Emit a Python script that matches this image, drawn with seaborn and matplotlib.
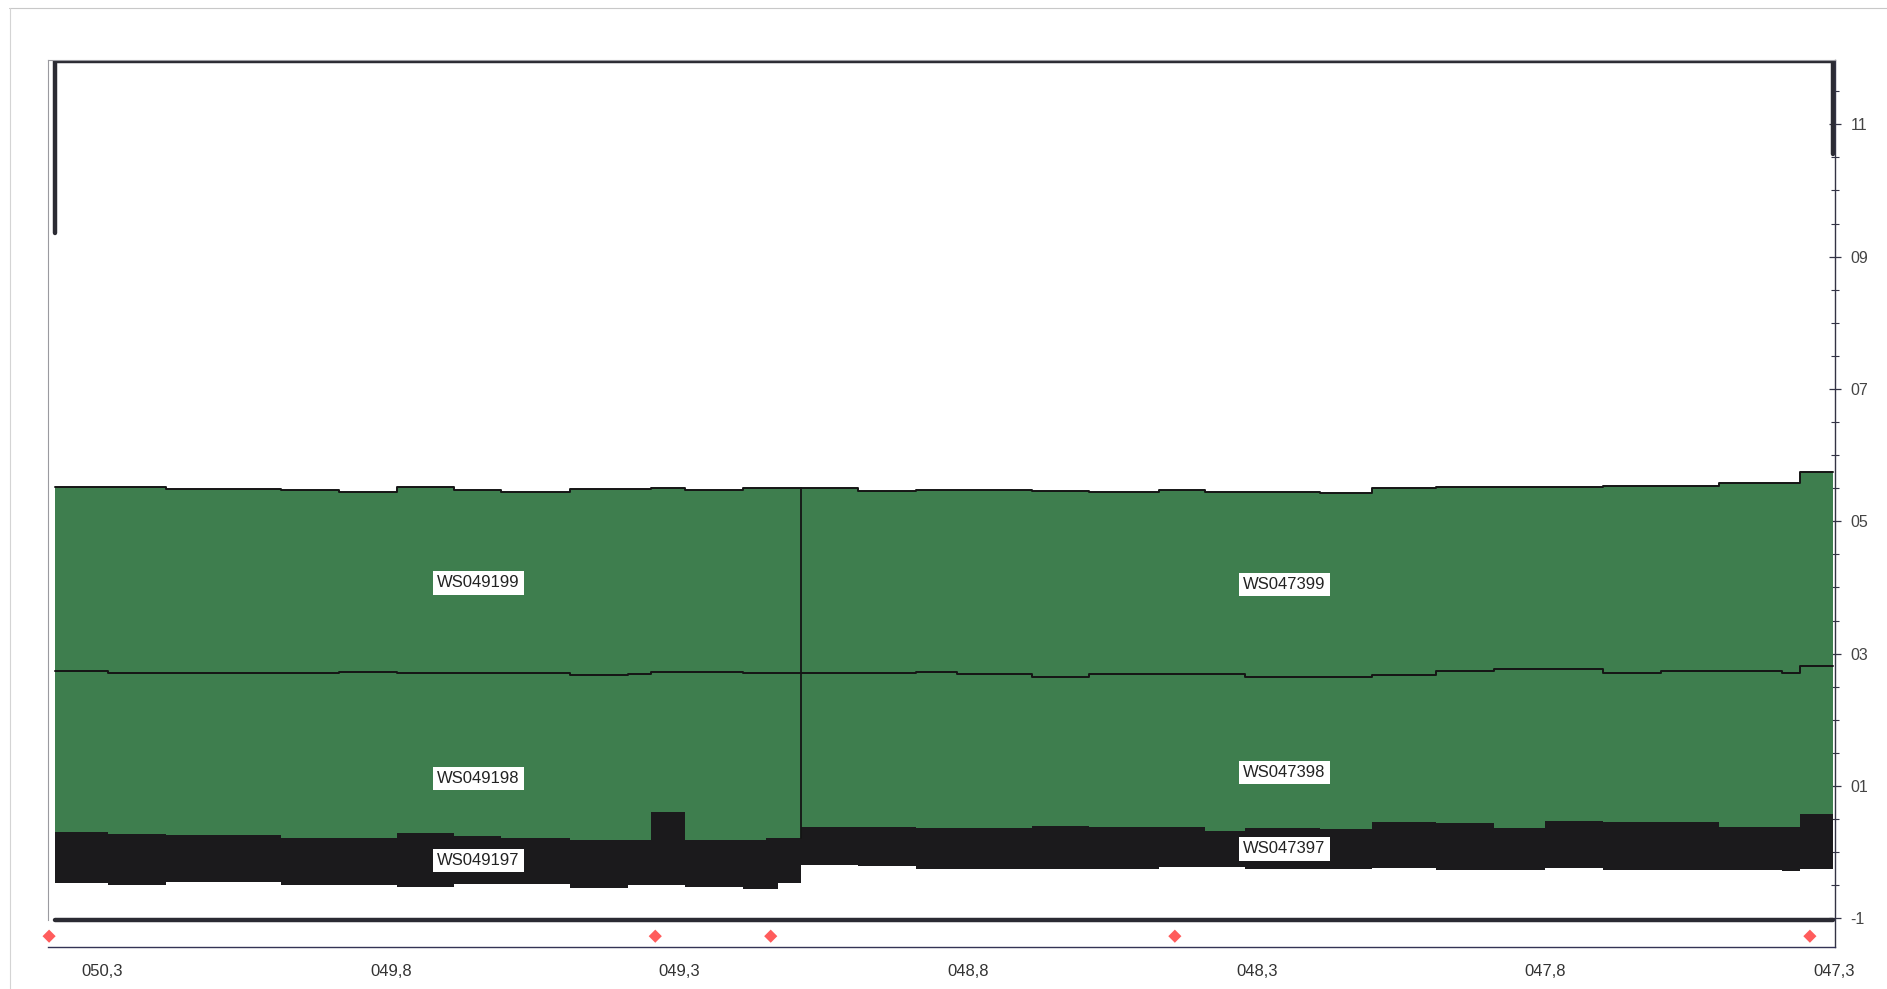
import numpy as np
import pandas as pd
import matplotlib.pyplot as plt
import seaborn as sns
from matplotlib.lines import Line2D
from matplotlib.ticker import FixedLocator, MultipleLocator

# chainage breakpoints (km) and layer boundaries (m)
# group WS0491xx (left part)
km_left = [50.382, 50.29, 50.19, 49.99, 49.89, 49.79, 49.69, 49.61,
           49.49, 49.39, 49.35, 49.29, 49.19, 49.15, 49.13, 49.09]
top99_left = [5.52, 5.52, 5.49, 5.47, 5.45, 5.52, 5.47, 5.45,
              5.49, 5.49, 5.51, 5.47, 5.50, 5.50, 5.50]
top98_left = [2.74, 2.70, 2.70, 2.70, 2.73, 2.70, 2.70, 2.70,
              2.67, 2.69, 2.73, 2.73, 2.70, 2.70, 2.70]
top97_left = [0.31, 0.28, 0.26, 0.22, 0.22, 0.29, 0.25, 0.21,
              0.19, 0.19, 0.61, 0.18, 0.18, 0.21, 0.21]
bot97_left = [-0.46, -0.49, -0.45, -0.49, -0.50, -0.52, -0.48, -0.48,
              -0.54, -0.50, -0.50, -0.52, -0.56, -0.56, -0.47]

# group WS0473xx (right part)
km_right = [49.09, 48.99, 48.89, 48.82, 48.69, 48.59, 48.47, 48.39, 48.32, 48.19,
            48.10, 47.99, 47.89, 47.80, 47.70, 47.60, 47.50, 47.39, 47.36, 47.302]
top99_right = [5.50, 5.46, 5.47, 5.47, 5.46, 5.445, 5.47, 5.45, 5.45, 5.43,
               5.50, 5.52, 5.52, 5.52, 5.535, 5.535, 5.58, 5.58, 5.75]
top98_right = [2.70, 2.70, 2.72, 2.69, 2.65, 2.69, 2.69, 2.69, 2.64, 2.64,
               2.675, 2.74, 2.77, 2.77, 2.71, 2.735, 2.735, 2.70, 2.81]
top97_right = [0.38, 0.38, 0.36, 0.37, 0.39, 0.38, 0.38, 0.32, 0.37, 0.345,
               0.45, 0.435, 0.36, 0.475, 0.46, 0.46, 0.38, 0.38, 0.58]
bot97_right = [-0.20, -0.21, -0.25, -0.25, -0.26, -0.26, -0.22, -0.22, -0.26, -0.26,
               -0.235, -0.27, -0.27, -0.245, -0.27, -0.27, -0.265, -0.285, -0.25]

# outline of the section
outline_km = [50.382, 50.382, 47.302, 47.302]
outline_lvl = [9.35, 11.96, 11.96, 10.55]
base_lvl = -1.03

# markers along the chainage
marker_km = [50.392, 49.342, 49.142, 48.442, 47.342]
marker_lvl = -1.27

# labels
labels_left = ["WS049199", "WS049198", "WS049197"]
labels_right = ["WS047399", "WS047398", "WS047397"]
label_km = [49.648, 48.252]
label_lvl_left = [4.07, 1.11, -0.13]
label_lvl_right = [4.05, 1.20, 0.05]

x_major = [50.3, 49.8, 49.3, 48.8, 48.3, 47.8, 47.3]
y_major = [-1, 1, 3, 5, 7, 9, 11]

green = "#3e7e4e"
black = "#1b1a1c"

sns.set_style("white")
plt.rcParams["font.family"] = ["Liberation Sans", "DejaVu Sans"]

fig = plt.figure(figsize=(18.87, 9.89), dpi=100)
ax = fig.add_axes([0.0254, 0.0423, 0.9472, 0.8969])


def stepped(vals):
    return list(vals) + [vals[-1]]


for km, t99, t98, t97, b97 in [
    (km_left, top99_left, top98_left, top97_left, bot97_left),
    (km_right, top99_right, top98_right, top97_right, bot97_right),
]:
    ax.fill_between(km, stepped(t98), stepped(t99), step="post", color=green, lw=0)
    ax.fill_between(km, stepped(t97), stepped(t98), step="post", color=green, lw=0)
    ax.fill_between(km, stepped(b97), stepped(t97), step="post", color=black, lw=0)
    for vals in (t99, t98):
        df = pd.DataFrame({"km": km, "lvl": stepped(vals)})
        sns.lineplot(data=df, x="km", y="lvl", sort=False, drawstyle="steps-post",
                     color="#151515", lw=1.4, ax=ax)

# divider between the two groups
ax.plot([km_right[0], km_right[0]], [top97_left[-1], top99_right[0]], color="#151515", lw=1.3)

# outline
ax.plot(outline_km, outline_lvl, color="#2b2b33", lw=3.2, solid_joinstyle="miter")
ax.plot([outline_km[0], outline_km[-1]], [base_lvl, base_lvl], color="#2b2b33", lw=3.2)

sns.scatterplot(x=marker_km, y=[marker_lvl] * len(marker_km), marker="D", s=45,
                color="#ff5c5c", edgecolor="none", ax=ax, zorder=5, clip_on=False)

for names, lvls in [(labels_left, label_lvl_left), (labels_right, label_lvl_right)]:
    xk = label_km[0] if names is labels_left else label_km[1]
    for name, lv in zip(names, lvls):
        ax.text(xk, lv, name, ha="center", va="center", fontsize=12, color="#222222",
                bbox=dict(boxstyle="square,pad=0.25", fc="white", ec="none"), zorder=6)

ax.set_xlim(50.394, 47.298)
ax.set_ylim(-1.436, 11.97)
ax.set_xlabel("")
ax.set_ylabel("")

ax.xaxis.set_major_locator(FixedLocator(x_major))
ax.xaxis.set_minor_locator(MultipleLocator(0.1))
ax.set_xticklabels([f"{v:05.1f}".replace(".", ",") for v in x_major])

ax.yaxis.tick_right()
ax.yaxis.set_major_locator(FixedLocator(y_major))
ax.yaxis.set_minor_locator(MultipleLocator(0.5))
ax.set_yticklabels([f"{v:02d}" for v in y_major])

ax.tick_params(axis="x", which="major", direction="inout", length=6, width=0.9,
               colors="#333344", labelsize=12, pad=9, labelcolor="#333333")
ax.tick_params(axis="x", which="minor", direction="inout", length=5, width=0.8, colors="#333344")
ax.tick_params(axis="y", which="major", direction="inout", length=8, width=0.9,
               colors="#333344", labelsize=11.5, pad=7, labelcolor="#444444",
               right=True, left=False)
ax.tick_params(axis="y", which="minor", direction="inout", length=6, width=0.8,
               colors="#333344", right=True, left=False)

for side in ["left", "top"]:
    ax.spines[side].set_color("#9a9aa0")
    ax.spines[side].set_linewidth(0.8)
ax.spines["left"].set_bounds(base_lvl, 11.97)
ax.spines["right"].set_color("#333344")
ax.spines["right"].set_linewidth(1.0)
ax.spines["bottom"].set_color("#333355")
ax.spines["bottom"].set_linewidth(1.0)

# scanned page border
fig.add_artist(Line2D([0.005, 1.0], [0.9915, 0.9915], color="#c8c8c8", lw=0.8))
fig.add_artist(Line2D([0.0053, 0.0053], [0.0, 0.9915], color="#d4d4d4", lw=0.8))

fig.savefig("out.png", dpi=100)
